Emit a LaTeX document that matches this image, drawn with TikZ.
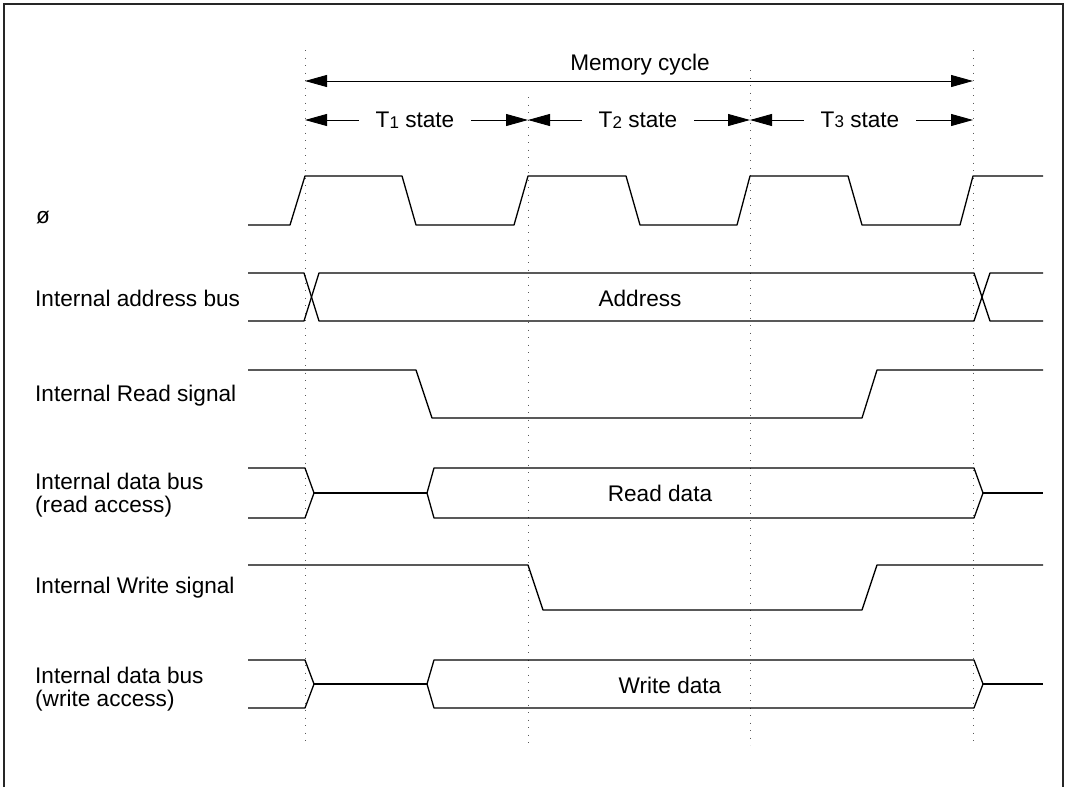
\documentclass[tikz,border=0pt]{standalone}
\usepackage{fontspec}
\setmainfont{Liberation Sans}
\usetikzlibrary{arrows.meta}
\newcommand{\sub}[1]{\raisebox{-0.6pt}{\fontsize{17}{17}\selectfont #1}}
\tikzset{bigtip/.tip={Triangle[length=22pt,width=12pt]}}
\begin{document}
\begin{tikzpicture}[x=1pt,y=-1pt,
  sig/.style={line width=1.3pt, line join=round},
  guide/.style={black!65, line width=0.9pt, dash pattern=on 0.9pt off 6.6pt},
  dim/.style={line width=0.9pt},
  lbl/.style={anchor=west, inner sep=0pt, align=left, font=\fontsize{22.6}{23.5}\selectfont},
  txt/.style={inner sep=0pt, font=\fontsize{22.6}{26}\selectfont},
  st/.style={inner xsep=17pt, inner ysep=0pt, font=\fontsize{22.6}{26}\selectfont}
]
\useasboundingbox (0,0) rectangle (1065,787);
% frame
\draw[black!85, line width=1.8pt] (4,787) -- (4,4) -- (1063,4) -- (1063,787);

% guides
\draw[guide] (305,50) -- (305,745);
\draw[guide] (528,97) -- (528,745);
\draw[guide] (750,70) -- (750,745);
\draw[guide] (973,50) -- (973,745);

% memory cycle
\coordinate (mcl) at (305,81);
\coordinate (mcr) at (973,81);
\draw[dim, bigtip-bigtip] (mcl) -- (mcr);
\node[txt] (mc) at (640,65) {Memory cycle};

% states
\coordinate (s0) at (305,120);
\coordinate (s1) at (528,120);
\coordinate (s2) at (750,120);
\coordinate (s3) at (973,120);
\node[st] (t1) at (415,120) {T\sub{1} state};
\node[st] (t2) at (638,120) {T\sub{2} state};
\node[st] (t3) at (860,120) {T\sub{3} state};
\draw[dim,-bigtip] (t1.west) -- (s0);
\draw[dim,-bigtip] (t1.east) -- (s1);
\draw[dim,-bigtip] (t2.west) -- (s1);
\draw[dim,-bigtip] (t2.east) -- (s2);
\draw[dim,-bigtip] (t3.west) -- (s2);
\draw[dim,-bigtip] (t3.east) -- (s3);

% labels
\node[lbl] (lphi) at (36,218) {ø};
\node[lbl] (laddr) at (35,298) {Internal address bus};
\node[lbl] (lrd) at (35,396) {Internal Read signal};
\node[lbl] (ldr) at (35,495) {Internal data bus\\(read access)};
\node[lbl] (lwr) at (35,588) {Internal Write signal};
\node[lbl] (ldw) at (35,689) {Internal data bus\\(write access)};

% clock
\draw[sig] (248,225) -- (290,225) -- (305,176) -- (402,176) -- (416,225) -- (514,225)
  -- (528,176) -- (626,176) -- (640,225) -- (737,225) -- (750,176) -- (848,176)
  -- (862,225) -- (960,225) -- (973,176) -- (1043,176);

% address bus
\draw[sig] (248,273) -- (304,273) -- (319,321) -- (974,321) -- (990,273) -- (1043,273);
\draw[sig] (248,321) -- (304,321) -- (319,273) -- (974,273) -- (990,321) -- (1043,321);
\node[txt] (addr) at (640,298) {Address};

% read signal
\draw[sig] (248,370) -- (416,370) -- (432,418) -- (862,418) -- (877,370) -- (1043,370);

% data bus read
\draw[sig] (248,468) -- (305,468) -- (314,493) -- (305,518) -- (248,518);
\draw[sig] (314,493) -- (427,493);
\draw[sig] (427,493) -- (434,468) -- (974,468) -- (983,493) -- (974,518) -- (434,518) -- cycle;
\draw[sig] (983,493) -- (1043,493);
\node[txt] (rdata) at (660,493) {Read data};

% write signal
\draw[sig] (248,565) -- (528,565) -- (543,610) -- (862,610) -- (877,565) -- (1043,565);

% data bus write
\draw[sig] (248,660) -- (305,660) -- (314,684) -- (305,708) -- (248,708);
\draw[sig] (314,684) -- (427,684);
\draw[sig] (427,684) -- (434,660) -- (974,660) -- (983,684) -- (974,708) -- (434,708) -- cycle;
\draw[sig] (983,684) -- (1043,684);
\node[txt] (wdata) at (670,685) {Write data};
\end{tikzpicture}
\end{document}
